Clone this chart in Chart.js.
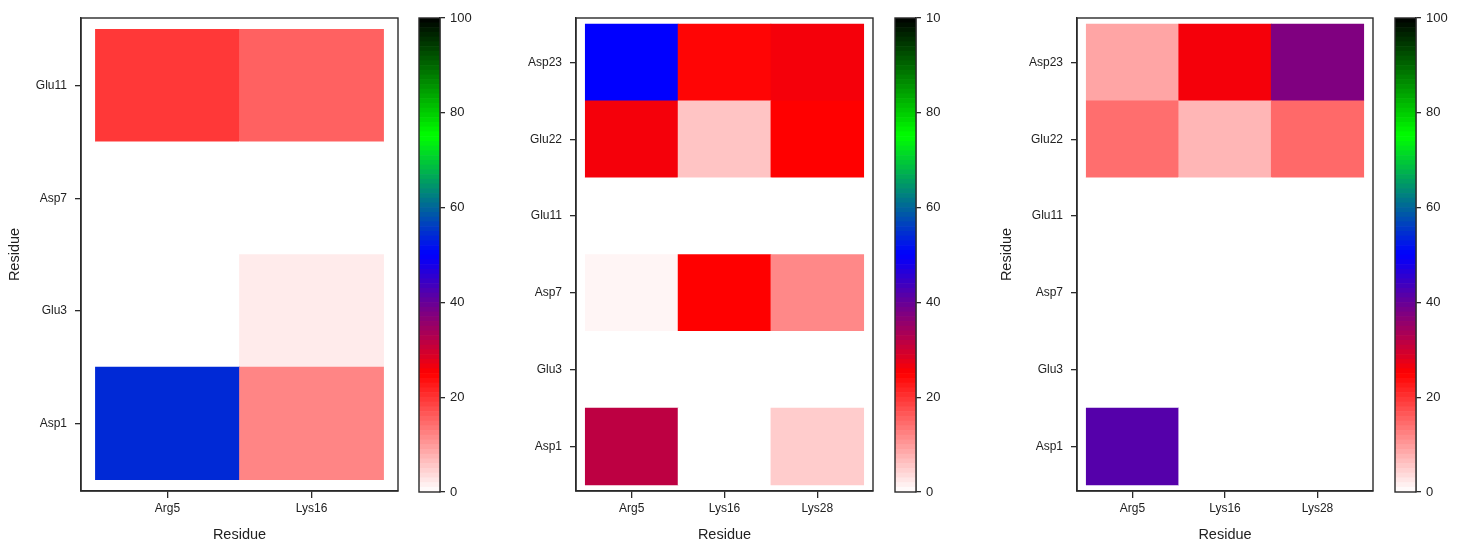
<!DOCTYPE html>
<html>
<head>
<meta charset="utf-8">
<script src="https://cdn.jsdelivr.net/npm/chart.js@4.4.0/dist/chart.umd.min.js"></script>
<style>
  body { margin: 0; background: #fff; width: 1460px; height: 544px; position: relative; overflow: hidden; }
  .pane { position: absolute; top: 0; height: 544px; }
</style>
</head>
<body>
<div class="pane" style="left:0px;width:400px"><canvas id="heat1"></canvas></div>
<div class="pane" style="left:410px;width:62px"><canvas id="bar1"></canvas></div>
<div class="pane" style="left:500px;width:375px"><canvas id="heat2"></canvas></div>
<div class="pane" style="left:886px;width:62px"><canvas id="bar2"></canvas></div>
<div class="pane" style="left:990px;width:385px"><canvas id="heat3"></canvas></div>
<div class="pane" style="left:1386px;width:62px"><canvas id="bar3"></canvas></div>

<script>
// ---- data (rows listed bottom -> top) ----
const cols1 = ["Arg5", "Lys16"];
const rows1 = ["Asp1", "Glu3", "Asp7", "Glu11"];
const values1 = [
    [54, 12],    // Asp1
    [0, 2],      // Glu3
    [0, 0],      // Asp7
    [19.5, 15.5] // Glu11
];

const cols2 = ["Arg5", "Lys16", "Lys28"];
const rows2 = ["Asp1", "Glu3", "Asp7", "Glu11", "Glu22", "Asp23"];
const values2 = [
    [31.5, 0, 5],    // Asp1
    [0, 0, 0],       // Glu3
    [1, 25, 11.7],   // Asp7
    [0, 0, 0],       // Glu11
    [26, 5.8, 25],   // Glu22
    [50, 24.5, 26]   // Asp23
];

const cols3 = ["Arg5", "Lys16", "Lys28"];
const rows3 = ["Asp1", "Glu3", "Asp7", "Glu11", "Glu22", "Asp23"];
const values3 = [
    [41.7, 0, 0],      // Asp1
    [0, 0, 0],         // Glu3
    [0, 0, 0],         // Asp7
    [0, 0, 0],         // Glu11
    [14.2, 7.2, 14.7], // Glu22
    [8.8, 26, 37.5]    // Asp23
];

const barTicks = [0, 20, 40, 60, 80, 100];
const barLabels1 = ["0", "20", "40", "60", "80", "100"];
const barLabels2 = ["0", "20", "40", "60", "80", "10"];
const barLabels3 = ["0", "20", "40", "60", "80", "100"];

// ---- colour scale: white -> red -> blue -> green -> black ----
const stops = [[0, [255, 255, 255]], [25, [255, 0, 0]], [50, [0, 0, 255]], [75, [0, 255, 0]], [100, [0, 0, 0]]];

function colorFor(v) {
    for (let i = 1; i < stops.length; i++) {
        if (v <= stops[i][0]) {
            const [a, ca] = stops[i - 1];
            const [b, cb] = stops[i];
            const t = (v - a) / (b - a);
            const c = ca.map((x, k) => Math.round(x + (cb[k] - x) * t));
            return `rgb(${c[0]},${c[1]},${c[2]})`;
        }
    }
    return "rgb(0,0,0)";
}

Chart.defaults.font.family = '"Liberation Sans", Arial, sans-serif';
Chart.defaults.font.size = 12;
Chart.defaults.color = "#222";
Chart.defaults.animation = false;

const INK = "#2a2a2a";

// box round the plot area
const frame = {
    id: "frame",
    afterDraw(chart) {
        const a = chart.chartArea;
        const ctx = chart.ctx;
        ctx.save();
        ctx.strokeStyle = INK;
        ctx.lineWidth = 1.4;
        ctx.strokeRect(a.left, a.top, a.right - a.left, a.bottom - a.top);
        ctx.restore();
    }
};

function makeHeat(id, rows, cols, values, opts) {
    const datasets = rows.map((row, r) => ({
        label: row,
        data: cols.map((c, i) => ({ x: i + 1, y: [r + 0.5, r + 1.5], v: values[r][i] })),
        backgroundColor: ctx => colorFor(ctx.raw.v),
        borderWidth: 0,
        grouped: false,
        barPercentage: 1,
        categoryPercentage: 1
    }));

    new Chart(document.getElementById(id), {
        type: "bar",
        data: { datasets },
        plugins: [frame],
        options: {
            responsive: true,
            maintainAspectRatio: false,
            layout: { padding: { left: 0, right: 2, top: 18, bottom: 0 } },
            plugins: { legend: { display: false }, tooltip: { enabled: false } },
            scales: {
                x: {
                    type: "linear",
                    offset: false,
                    min: 0.4,
                    max: cols.length + 0.6,
                    afterBuildTicks: s => { s.ticks = cols.map((c, i) => ({ value: i + 1 })); },
                    afterFit: s => { s.height = 53; },
                    ticks: { autoSkip: false, maxRotation: 0, padding: 3, callback: v => cols[v - 1] || "" },
                    grid: { offset: false, drawOnChartArea: false, tickLength: 7, color: INK, lineWidth: 1.3 },
                    border: { display: true, color: INK, width: 1.4 },
                    title: { display: true, text: "Residue", font: { size: 14.5 }, padding: { top: 0, bottom: 0 } }
                },
                y: {
                    type: "linear",
                    min: opts.ymin,
                    max: rows.length + 1 - opts.ymin,
                    afterBuildTicks: s => { s.ticks = rows.map((r, i) => ({ value: i + 1 })); },
                    afterFit: s => { s.width = opts.yWidth; },
                    ticks: { autoSkip: false, padding: 8, callback: v => rows[v - 1] || "" },
                    grid: { drawOnChartArea: false, tickLength: 6, color: INK, lineWidth: 1.3 },
                    border: { display: true, color: INK, width: 1.4 },
                    title: { display: opts.yTitle, text: "Residue", font: { size: 14.5 }, padding: { top: opts.titlePad, bottom: 0 } }
                }
            }
        }
    });
}

function makeBar(id, labels) {
    const datasets = [];
    for (let v = 0; v < 100; v++) {
        datasets.push({
            data: [[v, v + 1]],
            backgroundColor: colorFor(v + 0.5),
            borderWidth: 0,
            grouped: false,
            barPercentage: 1,
            categoryPercentage: 1
        });
    }
    new Chart(document.getElementById(id), {
        type: "bar",
        data: { labels: ["scale"], datasets },
        plugins: [frame],
        options: {
            responsive: true,
            maintainAspectRatio: false,
            layout: { padding: { left: 9, right: 0, top: 18, bottom: 52 } },
            plugins: { legend: { display: false }, tooltip: { enabled: false } },
            scales: {
                x: { display: false },
                y: {
                    position: "right",
                    min: 0,
                    max: 100,
                    afterBuildTicks: s => { s.ticks = barTicks.map(t => ({ value: t })); },
                    afterFit: s => { s.width = 32; },
                    ticks: { autoSkip: false, padding: 5, font: { size: 13 }, callback: (v, i) => labels[i] },
                    grid: { drawOnChartArea: false, tickLength: 5, color: INK, lineWidth: 1.3 },
                    border: { display: true, color: INK, width: 1.4 }
                }
            }
        }
    });
}

makeHeat("heat1", rows1, cols1, values1, { ymin: 0.4, yWidth: 81, yTitle: true, titlePad: 6 });
makeHeat("heat2", rows2, cols2, values2, { ymin: 0.42, yWidth: 76, yTitle: false, titlePad: 0 });
makeHeat("heat3", rows3, cols3, values3, { ymin: 0.42, yWidth: 87, yTitle: true, titlePad: 8 });

makeBar("bar1", barLabels1);
makeBar("bar2", barLabels2);
makeBar("bar3", barLabels3);
</script>
</body>
</html>
